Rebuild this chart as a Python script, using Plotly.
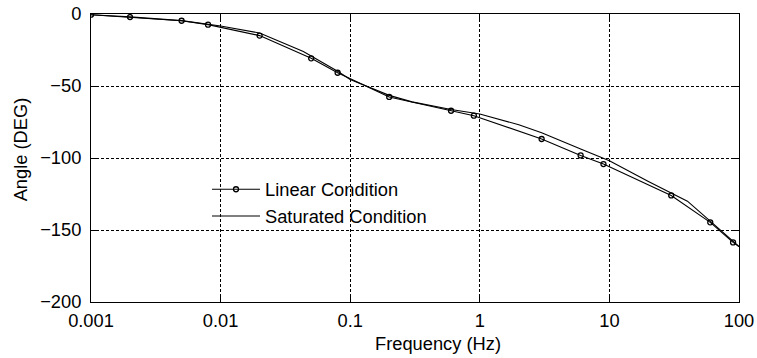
import plotly.graph_objects as go

# ---- data ----
freq_linear = [0.001, 0.002, 0.005, 0.008, 0.02, 0.05, 0.08, 0.2, 0.6, 0.9, 3, 6, 9, 30, 60, 90, 100]
angle_linear = [-0.5, -2.1, -4.7, -7.4, -15.0, -30.8, -40.8, -57.6, -67.2, -70.6, -86.8, -98.2, -104.2, -126.0, -144.7, -158.6, -161.5]

freq_saturated = [0.001, 0.002, 0.005, 0.01, 0.02, 0.0435, 0.08, 0.1, 0.2, 0.3, 0.6, 1, 2, 3, 6, 10, 20, 40, 60, 100]
angle_saturated = [-0.5, -2.0, -4.6, -8.3, -13.2, -26.0, -39.8, -45.5, -56.5, -61.0, -66.3, -69.5, -76.9, -82.5, -93.8, -101.9, -116.3, -130.0, -143.8, -161.5]

tick_vals = [0.001, 0.01, 0.1, 1, 10, 100]
tick_text = ["0.001", "0.01", "0.1", "1", "10", "100"]
y_ticks = [0, -50, -100, -150, -200]

FONT = "Liberation Sans, Arial, sans-serif"
FS = 18.3

fig = go.Figure()

# Linear condition: line with open circle markers (markers at measured points)
fig.add_trace(go.Scatter(
    x=freq_linear[:-1], y=angle_linear[:-1], mode="lines+markers",
    name="Linear Condition", legendgroup="lin",
    line=dict(color="black", width=1.1),
    marker=dict(symbol="circle-open", size=5, color="black", line=dict(width=1.3)),
))
# tail of linear curve to the right border (no marker)
fig.add_trace(go.Scatter(
    x=freq_linear[-2:], y=angle_linear[-2:], mode="lines",
    showlegend=False, legendgroup="lin",
    line=dict(color="black", width=1.1),
))
fig.add_trace(go.Scatter(
    x=freq_saturated, y=angle_saturated, mode="lines",
    name="Saturated Condition", legendgroup="sat",
    line=dict(color="black", width=1.1),
))

axis_common = dict(
    showline=True, linecolor="black", linewidth=1, mirror="ticks",
    ticks="inside", ticklen=5, tickcolor="black", tickwidth=1,
    showgrid=True, gridcolor="black", gridwidth=1, griddash="3px,2px",
    zeroline=False, automargin=False,
    tickfont=dict(family=FONT, size=FS, color="black"),
)

fig.update_xaxes(
    type="log", range=[-3, 2], tickvals=tick_vals, ticktext=tick_text,
    ticklabelstandoff=2, **axis_common,
)
fig.update_yaxes(
    range=[-200, 0], tickvals=y_ticks, ticklabelstandoff=5, **axis_common,
)

fig.add_annotation(
    text="Frequency (Hz)", xref="paper", yref="paper", x=0.5355, y=-0.143,
    xanchor="center", yanchor="middle", showarrow=False,
    font=dict(family=FONT, size=FS, color="black"),
)
fig.add_annotation(
    text="Angle (DEG)", xref="paper", yref="paper", x=-0.1096, y=0.53,
    xanchor="center", yanchor="middle", showarrow=False, textangle=-90,
    font=dict(family=FONT, size=FS, color="black"),
)

fig.update_layout(
    width=757, height=358,
    margin=dict(l=91, r=18, t=14, b=56, autoexpand=False),
    paper_bgcolor="white", plot_bgcolor="white",
    font=dict(family=FONT, size=FS, color="black"),
    legend=dict(
        x=(207 - 91) / 648, y=(302 - 171) / 287.7, xanchor="left", yanchor="top",
        bgcolor="rgba(0,0,0,0)", borderwidth=0, itemwidth=48,
        traceorder="grouped", tracegroupgap=0,
        font=dict(family=FONT, size=FS, color="black"),
    ),
    showlegend=True,
)

fig.write_html("out.html")
